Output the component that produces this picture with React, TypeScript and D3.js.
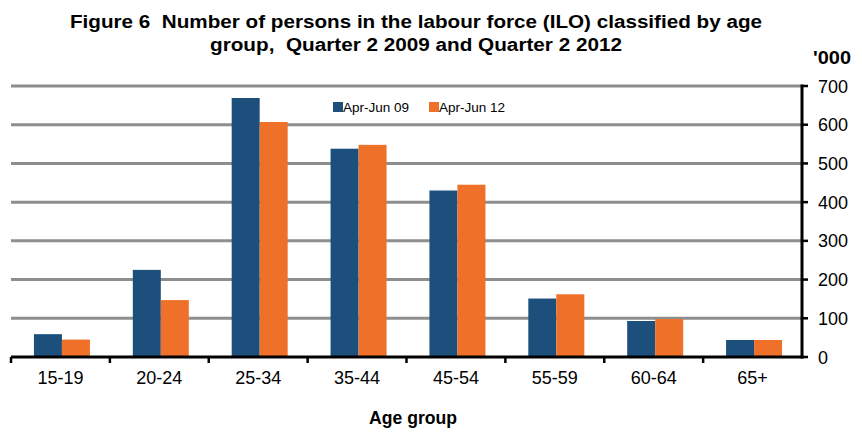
import React from "react";
import * as d3 from "d3";

const ageGroups = ["15-19", "20-24", "25-34", "35-44", "45-54", "55-59", "60-64", "65+"];
const seriesNames = ["Apr-Jun 09", "Apr-Jun 12"];
const apr09 = [59, 225, 669, 538, 430, 151, 93, 44];
const apr12 = [45, 147, 607, 548, 445, 162, 98, 44];
const yTicks = [0, 100, 200, 300, 400, 500, 600, 700];
const colors = ["#1d4f7c", "#ef7029"];

const W = 862;
const H = 434;
const left = 11;
const right = 802;
const top = 86;
const bottom = 357;

export default function App() {
  const x = d3.scaleBand<string>().domain(ageGroups).range([left, right]).paddingInner(0).paddingOuter(0);
  const y = d3.scaleLinear().domain([0, 700]).range([bottom, top]);
  const inner = d3.scaleBand<string>().domain(seriesNames).range([0, 56]);
  const barOffset = (x.bandwidth() - 56) / 2 + 1.5;
  const font = "'Liberation Sans', Arial, sans-serif";
  const series = [apr09, apr12];

  return (
    <svg width={W} height={H} style={{ position: "absolute", left: 0, top: 0, background: "#fff" }} fontFamily={font}>
      {/* title */}
      <text x={416} y={28} textAnchor="middle" fontWeight="bold" fontSize={18} textLength={692} lengthAdjust="spacingAndGlyphs" style={{ whiteSpace: "pre" }}>
        Figure 6  Number of persons in the labour force (ILO) classified by age
      </text>
      <text x={416} y={51} textAnchor="middle" fontWeight="bold" fontSize={18} textLength={412} lengthAdjust="spacingAndGlyphs" style={{ whiteSpace: "pre" }}>
        group,  Quarter 2 2009 and Quarter 2 2012
      </text>
      <text x={813} y={64} fontWeight="bold" fontSize={18} textLength={38} lengthAdjust="spacingAndGlyphs">'000</text>

      {/* gridlines */}
      {yTicks.filter((t) => t > 0).map((t) => (
        <line key={t} x1={left} x2={right} y1={y(t)} y2={y(t)} stroke="#8e8e8e" strokeWidth={3} />
      ))}

      {/* bars */}
      {ageGroups.map((g, i) => (
        <g key={g} transform={`translate(${x(g)! + barOffset},0)`}>
          {series.map((s, j) => (
            <rect key={j} x={inner(seriesNames[j])} y={y(s[i])} width={inner.bandwidth()} height={y(0) - y(s[i])} fill={colors[j]} />
          ))}
        </g>
      ))}

      {/* x axis */}
      <line x1={left} x2={right + 1.5} y1={bottom} y2={bottom} stroke="#000" strokeWidth={3} />
      {ageGroups.map((g) => (
        <line key={g} x1={x(g)!} x2={x(g)!} y1={bottom} y2={bottom + 6} stroke="#000" strokeWidth={2.5} />
      ))}
      {ageGroups.map((g) => (
        <text key={g} x={x(g)! + x.bandwidth() / 2} y={384} textAnchor="middle" fontSize={18}>{g}</text>
      ))}
      <text x={413} y={424} textAnchor="middle" fontWeight="bold" fontSize={18} textLength={88} lengthAdjust="spacingAndGlyphs">Age group</text>

      {/* right y axis */}
      <line x1={right} x2={right} y1={top - 1.5} y2={bottom + 1.5} stroke="#000" strokeWidth={3} />
      {yTicks.map((t) => (
        <line key={t} x1={right} x2={right + 6} y1={y(t)} y2={y(t)} stroke="#000" strokeWidth={2.5} />
      ))}
      {yTicks.map((t) => (
        <text key={t} x={818} y={y(t) + 6.5} fontSize={18}>{t}</text>
      ))}

      {/* legend */}
      {seriesNames.map((n, j) => (
        <g key={n} transform={`translate(${333 + j * 96},102)`}>
          <rect x={0} y={0} width={10} height={10} fill={colors[j]} />
          <text x={10} y={10} fontSize={13.5}>{n}</text>
        </g>
      ))}
    </svg>
  );
}
